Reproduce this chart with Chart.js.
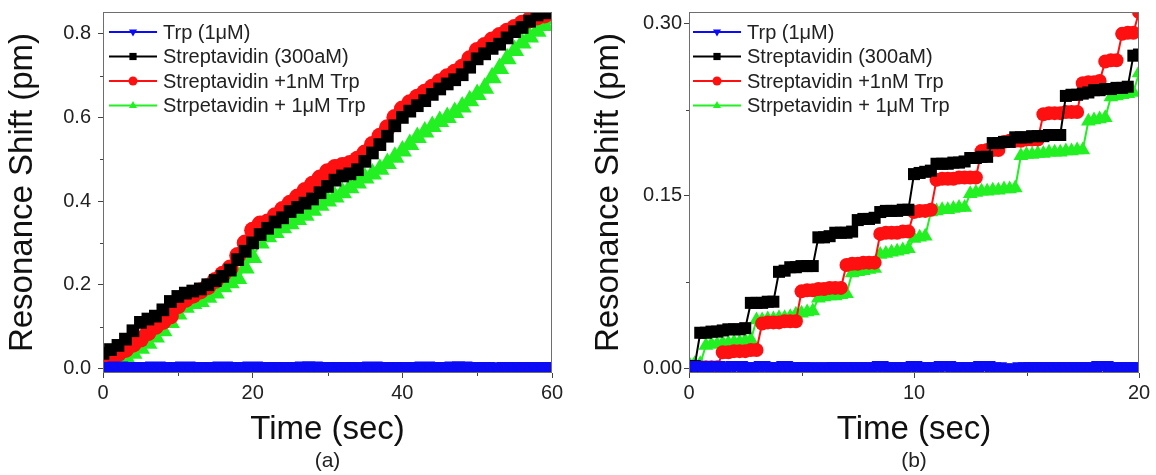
<!DOCTYPE html>
<html>
<head>
<meta charset="utf-8">
<script src="https://cdn.jsdelivr.net/npm/chart.js@4.4.0/dist/chart.umd.min.js"></script>
<style>
  html, body { margin: 0; padding: 0; background: #fff; }
  #wrap { display: flex; width: 1156px; height: 475px; }
  canvas { display: block; }
</style>
</head>
<body>
<div id="wrap">
  <canvas id="chartA" width="578" height="475"></canvas>
  <canvas id="chartB" width="578" height="475"></canvas>
</div>
<script>
// series names (same legend in both panels)
const seriesNames = ["Trp (1\u03bcM)", "Streptavidin (300aM)", "Streptavidin +1nM Trp", "Strpetavidin + 1\u03bcM Trp"];

// panel (a): time in sec, shift in pm
const timesA = [0,1,2,3,4,5,6,7,8,9,10,11,12,13,14,15,16,17,18,19,20,21,22,23,24,25,26,27,28,29,30,
  31,32,33,34,35,36,37,38,39,40,41,42,43,44,45,46,47,48,49,50,51,52,53,54,55,56,57,58,59,60];
const trpA = [0.001,0.001,0.002,0.001,0.001,0.000,0.001,0.002,0.001,0.001,
  0.001,0.002,0.001,0.000,0.001,0.001,0.002,0.001,0.001,0.001,
  0.002,0.001,0.001,0.001,0.000,0.001,0.001,0.002,0.002,0.001,
  0.001,0.001,0.000,0.001,0.001,0.001,0.002,0.001,0.001,0.001,
  0.000,0.001,0.001,0.002,0.001,0.001,0.001,0.002,0.002,0.001,
  0.001,0.001,0.000,0.000,0.001,0.001,0.001,0.001,0.001,0.001,0.001];
const strepA = [0.036,0.045,0.055,0.07,0.09,0.11,0.118,0.125,0.14,0.16,
  0.172,0.18,0.185,0.19,0.2,0.21,0.22,0.235,0.26,0.28,
  0.3,0.32,0.335,0.35,0.36,0.375,0.385,0.395,0.405,0.42,
  0.435,0.45,0.46,0.465,0.475,0.495,0.515,0.535,0.555,0.58,
  0.6,0.615,0.628,0.64,0.655,0.668,0.68,0.69,0.702,0.72,
  0.74,0.752,0.765,0.775,0.79,0.805,0.815,0.83,0.845,0.85,0.855];
const strepNmA = [0.02,0.028,0.035,0.045,0.058,0.07,0.085,0.1,0.112,0.125,
  0.15,0.165,0.175,0.185,0.195,0.21,0.225,0.24,0.27,0.3,
  0.33,0.345,0.35,0.365,0.38,0.395,0.41,0.425,0.44,0.455,
  0.47,0.48,0.485,0.49,0.5,0.515,0.535,0.555,0.575,0.6,
  0.62,0.635,0.648,0.66,0.672,0.685,0.697,0.708,0.72,0.74,
  0.76,0.772,0.785,0.796,0.806,0.815,0.825,0.833,0.84,0.845,0.85];
const strepUmA = [0.012,0.015,0.02,0.027,0.036,0.048,0.06,0.075,0.09,0.11,
  0.13,0.146,0.155,0.16,0.17,0.18,0.195,0.205,0.215,0.24,
  0.265,0.3,0.315,0.325,0.336,0.346,0.356,0.366,0.378,0.39,
  0.4,0.41,0.42,0.432,0.443,0.455,0.465,0.476,0.49,0.505,
  0.52,0.535,0.552,0.565,0.578,0.59,0.6,0.612,0.625,0.64,
  0.655,0.67,0.695,0.717,0.74,0.76,0.778,0.792,0.806,0.82,0.835];
const xTicksA = [0, 20, 40, 60];
const xMinorA = [10, 30, 50];
const yTicksA = [0, 0.2, 0.4, 0.6, 0.8];
const yMinorA = [0.1, 0.3, 0.5, 0.7];

// panel (b)
const timesB = [0,0.25,0.5,0.75,1,1.25,1.5,1.75,2,2.25,2.5,2.75,3,3.25,3.5,3.75,4,4.25,4.5,4.75,
  5,5.25,5.5,5.75,6,6.25,6.5,6.75,7,7.25,7.5,7.75,8,8.25,8.5,8.75,9,9.25,9.5,9.75,
  10,10.25,10.5,10.75,11,11.25,11.5,11.75,12,12.25,12.5,12.75,13,13.25,13.5,13.75,14,14.25,14.5,14.75,
  15,15.25,15.5,15.75,16,16.25,16.5,16.75,17,17.25,17.5,17.75,18,18.25,18.5,18.75,19,19.25,19.5,19.75,20];
const trpB = [0.002,0.002,0.002,0.001,0.002,0.002,0.001,0.001,0.002,0.002,
  0.001,0.001,0.001,0.002,0.001,0.001,0.001,0.002,0.001,0.001,
  0.001,0.001,0.001,0.000,0.001,0.001,0.001,0.001,0.001,0.001,
  0.001,0.001,0.001,0.001,0.002,0.001,0.001,0.001,0.001,0.001,
  0.002,0.001,0.001,0.001,0.001,0.002,0.002,0.001,0.001,0.001,
  0.001,0.001,0.002,0.002,0.001,0.001,0.000,0.000,0.000,0.001,
  0.001,0.001,0.001,0.001,0.001,0.001,0.001,0.001,0.001,0.001,
  0.001,0.001,0.001,0.002,0.002,0.001,0.001,0.001,0.001,0.001,0.001];
const strepB = [0.002,0.002,0.031,0.031,0.032,0.032,0.033,0.034,0.034,0.034,
  0.035,0.057,0.057,0.057,0.058,0.058,0.084,0.085,0.088,0.088,
  0.089,0.089,0.089,0.114,0.114,0.115,0.118,0.118,0.118,0.119,
  0.129,0.13,0.13,0.131,0.136,0.137,0.137,0.137,0.138,0.138,
  0.169,0.17,0.171,0.172,0.178,0.178,0.178,0.179,0.179,0.18,
  0.183,0.183,0.184,0.184,0.196,0.196,0.197,0.197,0.201,0.201,
  0.201,0.202,0.202,0.202,0.203,0.203,0.203,0.237,0.238,0.238,
  0.239,0.24,0.242,0.242,0.243,0.243,0.244,0.244,0.245,0.272,0.273];
const strepNmB = [0.001,0.001,0.001,0.001,0.001,0.001,
  0.014,0.014,0.015,0.015,0.015,0.016,0.016,
  0.039,0.04,0.04,0.04,0.041,0.041,0.041,
  0.067,0.068,0.068,0.069,0.069,0.07,0.07,0.07,
  0.09,0.091,0.091,0.092,0.092,0.092,
  0.117,0.118,0.118,0.118,0.119,0.119,
  0.136,0.137,0.137,0.138,
  0.164,0.165,0.165,0.165,0.166,0.166,0.166,0.166,
  0.189,0.19,0.19,0.19,
  0.197,0.198,0.198,0.198,0.199,0.199,0.199,
  0.221,0.222,0.222,0.222,0.223,0.223,0.223,
  0.248,0.249,0.249,0.25,
  0.267,0.268,0.268,
  0.291,0.292,0.292,
  0.31];
const strepUmB = [0.004,0.004,0.004,
  0.02,0.021,0.021,0.022,0.022,0.023,0.023,0.024,0.025,
  0.042,0.042,0.043,0.043,0.044,0.044,0.045,
  0.047,0.048,0.049,0.05,
  0.061,0.062,0.063,0.063,0.064,0.065,
  0.083,0.084,0.085,0.086,0.087,
  0.099,0.1,0.101,0.102,0.103,0.104,
  0.113,0.114,0.115,
  0.136,0.137,0.138,0.138,0.139,0.14,0.14,
  0.152,0.153,0.154,0.154,0.155,0.155,0.156,0.156,0.157,
  0.185,0.186,0.186,0.187,0.187,0.188,0.188,0.188,0.189,0.189,0.19,0.19,
  0.215,0.216,0.217,0.218,
  0.236,0.237,0.238,0.239,0.24,
  0.257];
const xTicksB = [0, 10, 20];
const xMinorB = [5, 15];
const yTicksB = [0, 0.15, 0.30];
const yMinorB = [0.075, 0.225];

const FONT = '"Liberation Sans", Arial, sans-serif';
Chart.defaults.font.family = FONT;
Chart.defaults.color = '#222';

const colors = ['#0b0bf5', '#000000', '#ff1010', '#22f022'];
const styles = ['triangle', 'rect', 'circle', 'triangle'];
const rotations = [180, 0, 0, 0];

function pairs(times, vals) {
  return vals.map((v, i) => ({ x: times[i], y: v }));
}

// small marker for the legend rows
function marker(ctx, style, rot, x, y, r) {
  ctx.beginPath();
  if (style === 'circle') {
    ctx.arc(x, y, r, 0, Math.PI * 2);
  } else if (style === 'rect') {
    ctx.rect(x - r * 0.8, y - r * 0.8, r * 1.6, r * 1.6);
  } else {
    const s = rot === 180 ? -1 : 1;
    ctx.moveTo(x, y - s * r);
    ctx.lineTo(x + r * 0.9, y + s * r * 0.55);
    ctx.lineTo(x - r * 0.9, y + s * r * 0.55);
    ctx.closePath();
  }
  ctx.fill();
}

// box frame, minor ticks and legend inside the plot
const framePlugin = {
  id: 'frame',
  afterDatasetsDraw(chart, args, opts) {
    const { ctx, chartArea: a, scales } = chart;
    ctx.save();
    ctx.strokeStyle = '#6e6e6e';
    ctx.lineWidth = 1;
    ctx.strokeRect(a.left + 0.5, a.top + 0.5, a.right - a.left - 1, a.bottom - a.top - 1);
    ctx.strokeStyle = '#444';
    ctx.beginPath();
    opts.minorX.forEach(v => {
      const x = Math.round(scales.x.getPixelForValue(v)) + 0.5;
      ctx.moveTo(x, a.bottom);
      ctx.lineTo(x, a.bottom + 3);
    });
    opts.minorY.forEach(v => {
      const y = Math.round(scales.y.getPixelForValue(v)) + 0.5;
      ctx.moveTo(a.left, y);
      ctx.lineTo(a.left - 3, y);
    });
    ctx.stroke();
    ctx.restore();
  },
  afterDraw(chart, args, opts) {
    const { ctx, chartArea: a } = chart;
    ctx.save();
    ctx.font = '20px ' + FONT;
    ctx.textBaseline = 'middle';
    chart.data.datasets.forEach((ds, i) => {
      const y = a.top + 20 + i * 24.5;
      const x0 = a.left + opts.legendX;
      ctx.strokeStyle = ds.borderColor;
      ctx.fillStyle = ds.borderColor;
      ctx.lineWidth = 2;
      ctx.beginPath();
      ctx.moveTo(x0, y);
      ctx.lineTo(x0 + 48, y);
      ctx.stroke();
      marker(ctx, ds.pointStyle, ds.pointRotation, x0 + 24, y, 4.5);
      ctx.fillStyle = '#222';
      ctx.fillText(ds.label, x0 + 54, y + 1);
    });
    ctx.restore();
  }
};

function makeChart(id, cfg) {
  const radii = cfg.radii;
  const datasets = cfg.series.map((vals, i) => ({
    label: seriesNames[i],
    data: pairs(cfg.times, vals),
    borderColor: colors[i],
    backgroundColor: colors[i],
    borderWidth: 2,
    pointStyle: styles[i],
    pointRotation: rotations[i],
    pointRadius: radii[i],
    pointBorderWidth: 0,
    pointBackgroundColor: colors[i],
    tension: 0
  }));

  return new Chart(document.getElementById(id), {
    type: 'line',
    data: { datasets },
    plugins: [framePlugin],
    options: {
      responsive: false,
      animation: false,
      devicePixelRatio: 1,
      layout: { padding: { top: cfg.padTop, right: cfg.padRight, left: 0, bottom: 0 } },
      plugins: {
        legend: { display: false },
        tooltip: { enabled: false },
        title: {
          display: true,
          position: 'bottom',
          fullSize: false,
          text: cfg.caption,
          color: '#222',
          font: { size: 21, weight: 'normal', lineHeight: 1 },
          padding: { top: 0, bottom: 3 }
        },
        frame: { minorX: cfg.xMinor, minorY: cfg.yMinor, legendX: cfg.legendX }
      },
      scales: {
        x: {
          type: 'linear',
          min: cfg.xMin,
          max: cfg.xMax,
          afterFit: s => { s.height = 78; },
          afterBuildTicks: s => { s.ticks = cfg.xTicks.map(v => ({ value: v })); },
          grid: { drawOnChartArea: false, drawTicks: true, tickLength: 5, color: '#444' },
          border: { display: false },
          ticks: { font: { size: 20 }, color: '#222', padding: 3, maxRotation: 0 },
          title: {
            display: true,
            text: 'Time (sec)',
            color: '#111',
            font: { size: 33, lineHeight: 1.2 },
            padding: { top: 0, bottom: 1 }
          }
        },
        y: {
          min: cfg.yMin,
          max: cfg.yMax,
          // fixed axis width, and no extra room above the plot for the top label
          afterFit: s => { s.width = cfg.yWidth; s.paddingTop = 0; s.paddingBottom = 0; },
          afterBuildTicks: s => { s.ticks = cfg.yTicks.map(v => ({ value: v })); },
          grid: { drawOnChartArea: false, drawTicks: true, tickLength: 5, color: '#444' },
          border: { display: false },
          ticks: {
            font: { size: 20 },
            color: '#222',
            padding: cfg.yTickPad,
            callback: v => v.toFixed(cfg.yDigits)
          },
          title: {
            display: true,
            text: 'Resonance Shift (pm)',
            color: '#111',
            font: { size: 33, lineHeight: 1.2 },
            padding: { top: cfg.yTitlePad, bottom: 0 }
          }
        }
      }
    }
  });
}

makeChart('chartA', {
  times: timesA,
  series: [trpA, strepA, strepNmA, strepUmA],
  radii: [12, 9, 8.5, 11],
  xMin: 0, xMax: 60, xTicks: xTicksA, xMinor: xMinorA,
  yMin: -0.011, yMax: 0.852, yTicks: yTicksA, yMinor: yMinorA, yDigits: 1,
  yWidth: 103, yTickPad: 7, yTitlePad: 3,
  padTop: 10, padRight: 26, legendX: 6,
  caption: '(a)'
});

makeChart('chartB', {
  times: timesB,
  series: [trpB, strepB, strepNmB, strepUmB],
  radii: [10, 8.5, 7, 8.5],
  xMin: 0, xMax: 20, xTicks: xTicksB, xMinor: xMinorB,
  yMin: -0.004, yMax: 0.31, yTicks: yTicksB, yMinor: yMinorB, yDigits: 2,
  yWidth: 111, yTickPad: 2, yTitlePad: 11,
  padTop: 12, padRight: 17, legendX: 4,
  caption: '(b)'
});
</script>
</body>
</html>
